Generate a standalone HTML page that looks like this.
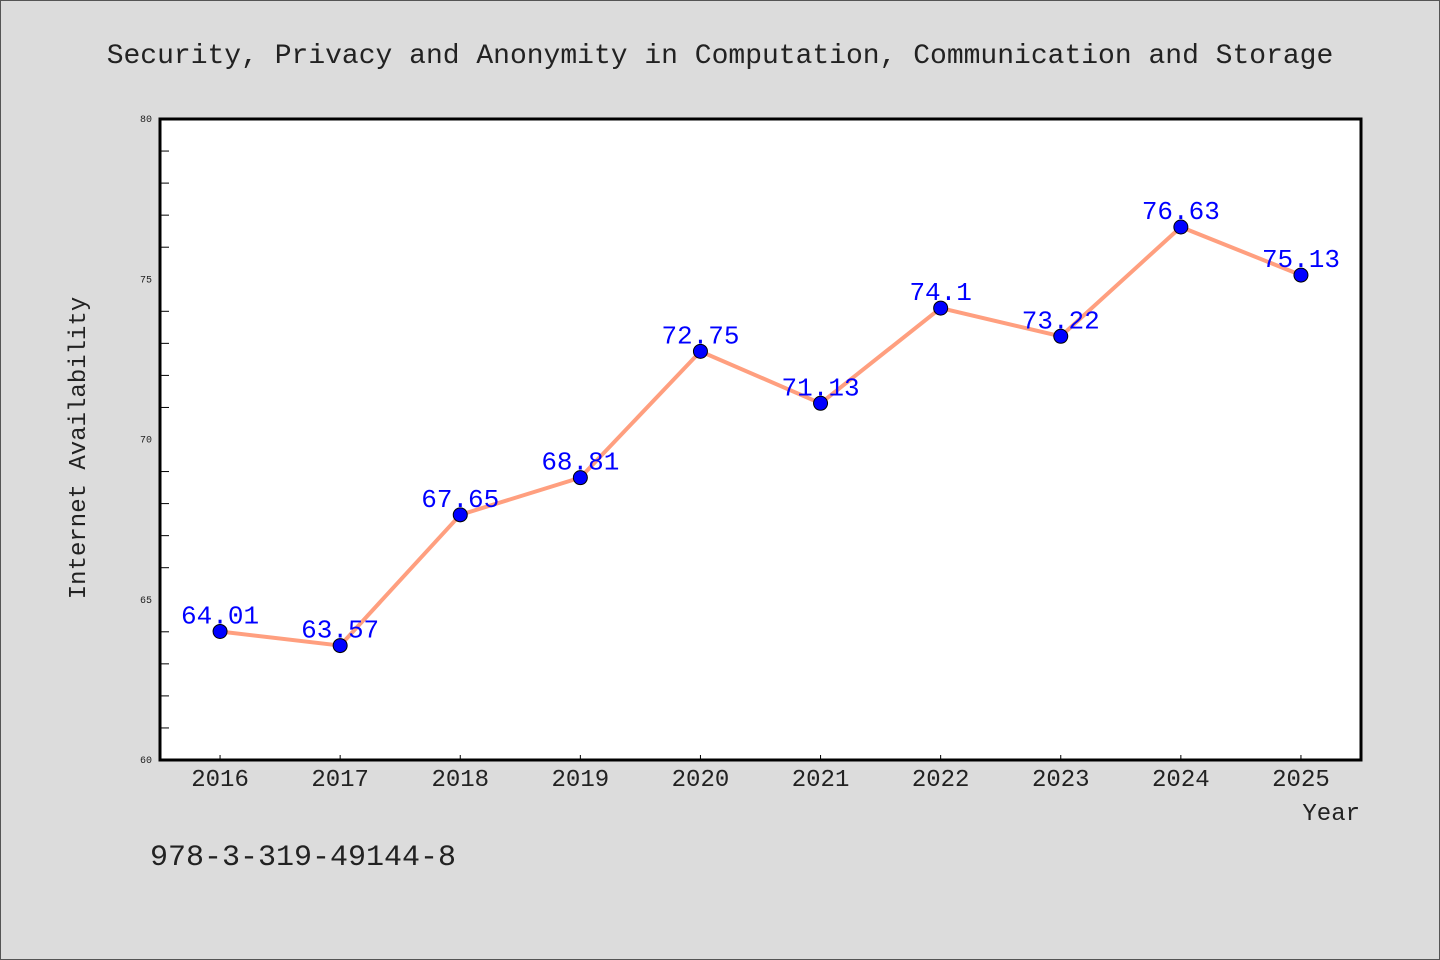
<!DOCTYPE html>
<html><head><meta charset="utf-8"><style>
body{margin:0;background:#dcdcdc;}
svg{display:block;font-family:"WenQuanYi Zen Hei","Liberation Mono",monospace;}
</style></head><body>
<svg width="1440" height="960" viewBox="0 0 1440 960">
<rect x="0.5" y="0.5" width="1439" height="959" fill="#dcdcdc" stroke="#555"/>
<text x="720" y="63" text-anchor="middle" font-size="28" fill="#222">Security, Privacy and Anonymity in Computation, Communication and Storage</text>
<rect x="160" y="119" width="1201" height="641" fill="#fff"/>
<g id="axes"></g>
<g id="series"></g>
<rect x="160" y="119" width="1201" height="641" fill="none" stroke="#000" stroke-width="3"/>
<text x="85" y="448" text-anchor="middle" font-size="24" fill="#222" transform="rotate(-90 85 448)">Internet Availability</text>
<text x="1360" y="820" text-anchor="end" font-size="24" fill="#222">Year</text>
<text x="150" y="865" font-size="30" fill="#222">978-3-319-49144-8</text>
</svg>
<script>
const years=[2016,2017,2018,2019,2020,2021,2022,2023,2024,2025];
const values=[64.01,63.57,67.65,68.81,72.75,71.13,74.1,73.22,76.63,75.13];
const yTicks=[60,65,70,75,80];
const NS="http://www.w3.org/2000/svg";
const X0=160,X1=1361,Y0=760,Y1=119,ymin=60,ymax=80;
const xs=v=>X0+(v-2015.5)/10*(X1-X0);
const ys=v=>Y0-(v-ymin)/(ymax-ymin)*(Y0-Y1);
function mk(t,a){const e=document.createElementNS(NS,t);for(const k in a)e.setAttribute(k,a[k]);return e;}
const ax=document.getElementById('axes'),se=document.getElementById('series');
yTicks.forEach(t=>{const l=mk('text',{x:152,y:ys(t)+3,'text-anchor':'end','font-size':10,fill:'#222'});


l.textContent=t;ax.appendChild(l);});
for(let v=ymin+1;v<ymax;v++){if(v%5===0)continue;const t=mk('line',{x1:160,x2:169,y1:ys(v),y2:ys(v),stroke:'#000','stroke-width':1});


ax.appendChild(t);}
years.forEach(y=>{const t=mk('line',{x1:xs(y),x2:xs(y),y1:760,y2:755,stroke:'#000','stroke-width':1});


ax.appendChild(t);
const l=mk('text',{x:xs(y),y:786,'text-anchor':'middle','font-size':24,fill:'#222'});


l.textContent=y;ax.appendChild(l);});
const line=mk('polyline',{points:years.map((y,i)=>xs(y)+','+ys(values[i])).join(' '),fill:'none',stroke:'#ff9f7f','stroke-width':4});


se.appendChild(line);
years.forEach((y,i)=>{const c=mk('circle',{cx:xs(y),cy:ys(values[i]),r:7,fill:'#0000ff',stroke:'#000','stroke-width':1});


se.appendChild(c);
const l=mk('text',{x:xs(y),y:ys(values[i])-8,'text-anchor':'middle','font-size':26,fill:'#0000ff'});


l.textContent=values[i];se.appendChild(l);});
</script>
</body></html>
